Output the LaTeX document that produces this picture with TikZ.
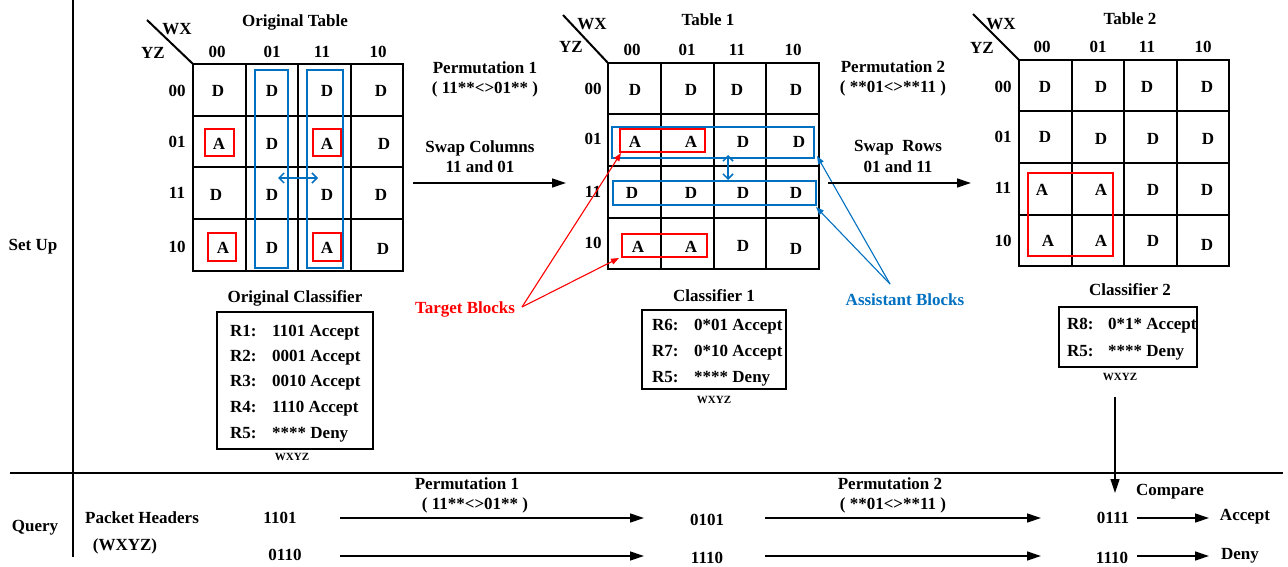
\documentclass[tikz,border=0pt]{standalone}
\usepackage{fontspec}
\setmainfont{Liberation Serif}
\usetikzlibrary{arrows.meta}
\definecolor{myblue}{RGB}{0,112,192}
\newcommand\kmapgrid[4]{%
  \draw[gridline] (#1,#2) rectangle ++(#3,#4);
  \foreach \k in {1,2,3} {
    \draw[gridline] ({#1+\k*#3/4},#2) -- ++(0,#4);
    \draw[gridline] (#1,{#2+\k*#4/4}) -- ++(#3,0);
  }}
\begin{document}
\begin{tikzpicture}[x=1pt,y=-1pt,
  font=\fontsize{17}{20}\selectfont\bfseries,
  every node/.style={inner sep=0pt},
  small/.style={font=\fontsize{11}{13}\selectfont\bfseries},
  gridline/.style={line width=2pt},
  redbox/.style={draw=red, line width=2.6pt},
  bluebox/.style={draw=myblue, line width=2.6pt},
  bigarr/.style={line width=1.3pt, -{Triangle[length=14pt,width=9pt]}},
  redarr/.style={draw=red, line width=1.1pt, -{Triangle[length=8pt,width=6pt]}},
  bluearr/.style={draw=myblue, line width=1.1pt, -{Triangle[length=8pt,width=6pt]}},
  dbl/.style={draw=myblue, line width=1.5pt, {Straight Barb[length=5pt,width=10pt]}-{Straight Barb[length=5pt,width=10pt]}},
  clbox/.style={draw, line width=1.3pt},
  row/.style={anchor=base west},
]
\useasboundingbox (0,0) rectangle (1288,567);

% frame lines
\draw[line width=1.2pt] (73,0) -- (73,557);
\draw[line width=1.2pt] (10,473) -- (1283,473);
\node (setup) at (33,247) {Set Up};
\node (query) at (35,528) {Query};

% ---------------- Original table ----------------
\kmapgrid{193}{64}{210}{207}
\draw[gridline] (147,20) -- (193,64);
\node (owx) at (177,29) {WX};
\node (oyz) at (153,53) {YZ};
\node (otitle) at (295,22) {Original Table};
\foreach \t/\x [count=\i] in {00/217,01/272,11/322,10/378} \node (oc\i) at (\x,52) {\t};
\foreach \t/\y [count=\i] in {00/91,01/142,11/193,10/247} \node (or\i) at (177,\y) {\t};
\foreach \t/\x/\y [count=\i] in {D/218/91,D/272/91,D/327/91,D/381/91,
  A/219/144,D/272/144,A/327/144,D/384/144,
  D/216/195,D/272/195,D/327/195,D/381/195,
  A/223/248,D/272/248,A/327/248,D/383/249}
  \node (ocell\i) at (\x,\y) {\t};
\draw[redbox] (205,129) rectangle (234,156);
\draw[redbox] (313,129) rectangle (341,156);
\draw[redbox] (208,233) rectangle (236,261);
\draw[redbox] (313,233) rectangle (341,261);
\draw[bluebox] (255,70) rectangle (288,268);
\draw[bluebox] (307,70) rectangle (343,268);
\coordinate (oda) at (278,178);
\coordinate (odb) at (318,178);
\draw[dbl] (oda) -- (odb);

% permutation 1 arrow
\node (p1a) at (485,68) {Permutation 1};
\node (p1b) at (485,89) {( 11**<>01** )};
\node (sc1) at (480,148) {Swap Columns};
\node (sc2) at (480,167) {11 and 01};
\coordinate (a1s) at (413,183);
\coordinate (a1e) at (566,183);
\draw[bigarr] (a1s) -- (a1e);

% ---------------- Table 1 ----------------
\kmapgrid{608}{63}{211}{206}
\draw[gridline] (563,15) -- (608,63);
\node (awx) at (592,24) {WX};
\node (ayz) at (571,47) {YZ};
\node (atitle) at (708,20) {Table 1};
\foreach \t/\x [count=\i] in {00/632,01/687,11/737,10/793} \node (ac\i) at (\x,50) {\t};
\foreach \t/\y [count=\i] in {00/89,01/139,11/192,10/243} \node (ar\i) at (593,\y) {\t};
\foreach \t/\x/\y [count=\i] in {D/635/90,D/691/90,D/737/90,D/796/90,
  A/635/142,A/691/142,D/743/142,D/799/142,
  D/632/193,D/691/193,D/743/193,D/796/193,
  A/638/247,A/691/247,D/743/246,D/796/249}
  \node (acell\i) at (\x,\y) {\t};
\draw[redbox] (620,129) rectangle (705,152);
\draw[redbox] (622,234) rectangle (707,257);
\draw[bluebox] (612,127) rectangle (814,158);
\draw[bluebox] (613,181) rectangle (816,205);
\coordinate (ada) at (728,155);
\coordinate (adb) at (728,180);
\draw[dbl] (ada) -- (adb);

% target blocks
\node[text=red] (tb) at (465,309) {Target Blocks};
\coordinate (tbp) at (522,307);
\coordinate (tb1) at (621,153);
\coordinate (tb2) at (619,258);
\draw[redarr] (tbp) -- (tb1);
\draw[redarr] (tbp) -- (tb2);

% assistant blocks
\node[text=myblue] (ab) at (905,300) {Assistant Blocks};
\coordinate (abp) at (890,284);
\coordinate (ab1) at (817,156);
\coordinate (ab2) at (816,207);
\draw[bluearr] (abp) -- (ab1);
\draw[bluearr] (abp) -- (ab2);

% permutation 2 arrow
\node (p2a) at (893,67) {Permutation 2};
\node (p2b) at (893,88) {( **01<>**11 )};
\node (sr1) at (898,148) {Swap\ \ Rows};
\node (sr2) at (898,167) {01 and 11};
\coordinate (a2s) at (828,183);
\coordinate (a2e) at (971,183);
\draw[bigarr] (a2s) -- (a2e);

% ---------------- Table 2 ----------------
\kmapgrid{1019}{60}{210}{206}
\draw[gridline] (973,14) -- (1019,60);
\node (bwx) at (1001,24) {WX};
\node (byz) at (982,48) {YZ};
\node (btitle) at (1130,19) {Table 2};
\foreach \t/\x [count=\i] in {00/1042,01/1098,11/1147,10/1203} \node (bc\i) at (\x,47) {\t};
\foreach \t/\y [count=\i] in {00/87,01/137,11/188,10/241} \node (br\i) at (1003,\y) {\t};
\foreach \t/\x/\y [count=\i] in {D/1045/87,D/1101/87,D/1147/87,D/1207/87,
  D/1045/137,D/1101/139,D/1153/139,D/1208/139,
  A/1042/190,A/1101/190,D/1153/190,D/1207/190,
  A/1048/241,A/1101/241,D/1153/241,D/1207/245}
  \node (bcell\i) at (\x,\y) {\t};
\draw[redbox] (1028,173) rectangle (1113,256);

% ---------------- Classifiers ----------------
\node (ocl) at (295,298) {Original Classifier};
\node[clbox, minimum width=156pt, minimum height=137pt] (ocbox) at (295,380.5) {};
\foreach \r/\v/\y [count=\i] in {R1:/1101 Accept/336,R2:/0001 Accept/361,R3:/0010 Accept/386,R4:/1110 Accept/412,R5:/**** Deny/438}
  {\node[row] (ocr\i) at (230,\y) {\r};
   \node[row] (ocv\i) at (272,\y) {\v};}
\node[small] (ocw) at (292,457) {WXYZ};

\node (c1l) at (714,296) {Classifier 1};
\node[clbox, minimum width=144pt, minimum height=79pt] (c1box) at (714,349.5) {};
\foreach \r/\v/\y [count=\i] in {R6:/0*01 Accept/330,R7:/0*10 Accept/356,R5:/**** Deny/382}
  {\node[row] (c1r\i) at (652,\y) {\r};
   \node[row] (c1v\i) at (694,\y) {\v};}
\node[small] (c1w) at (714,400) {WXYZ};

\node (c2l) at (1130,290) {Classifier 2};
\node[clbox, minimum width=138pt, minimum height=60pt] (c2box) at (1128,337) {};
\foreach \r/\v/\y [count=\i] in {R8:/0*1* Accept/329,R5:/**** Deny/356}
  {\node[row] (c2r\i) at (1067,\y) {\r};
   \node[row] (c2v\i) at (1108,\y) {\v};}
\node[small] (c2w) at (1120,377) {WXYZ};
\coordinate (cmpS) at (1115,397);
\coordinate (cmpE) at (1115,493);
\draw[bigarr] (cmpS) -- (cmpE);

% ---------------- Query ----------------
\node (ph1) at (142,518) {Packet Headers};
\node (ph2) at (125,546) {(WXYZ)};
\node (q11) at (280,518) {1101};
\node (q21) at (285,555) {0110};
\node (qp1a) at (467,484) {Permutation 1};
\node (qp1b) at (475,505) {( 11**<>01** )};
\node (q12) at (707,520) {0101};
\node (q22) at (707,558) {1110};
\node (qp2a) at (890,484) {Permutation 2};
\node (qp2b) at (893,505) {( **01<>**11 )};
\node (q13) at (1113,518) {0111};
\node (q23) at (1112,558) {1110};
\node (cmp) at (1170,492) {Compare};
\node (acc) at (1245,517) {Accept};
\node (den) at (1240,556) {Deny};
\coordinate (r1a) at (340,518); \coordinate (r1b) at (644,518);
\coordinate (r2a) at (340,556); \coordinate (r2b) at (644,556);
\coordinate (r3a) at (765,518); \coordinate (r3b) at (1041,518);
\coordinate (r4a) at (765,556); \coordinate (r4b) at (1041,556);
\coordinate (r5a) at (1137,518); \coordinate (r5b) at (1209,518);
\coordinate (r6a) at (1137,556); \coordinate (r6b) at (1209,556);
\foreach \a/\b in {r1a/r1b,r2a/r2b,r3a/r3b,r4a/r4b,r5a/r5b,r6a/r6b}
  \draw[bigarr] (\a) -- (\b);
\end{tikzpicture}
\end{document}
